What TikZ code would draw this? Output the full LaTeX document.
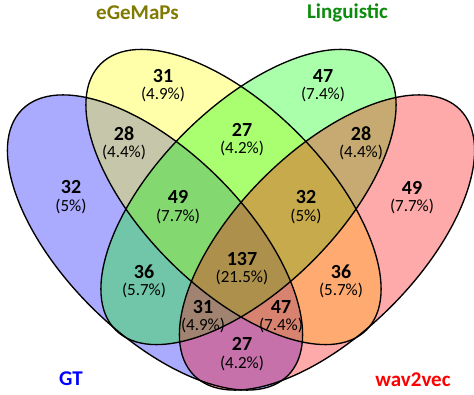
\documentclass[tikz,border=0pt]{standalone}
\usepackage{fontspec}
\setmainfont{Carlito}
\definecolor{gtfill}{RGB}{0,0,255}
\definecolor{egfill}{RGB}{255,255,0}
\definecolor{lifill}{RGB}{0,255,0}
\definecolor{wvfill}{RGB}{255,0,0}
\definecolor{egtext}{RGB}{128,122,0}
\definecolor{litext}{RGB}{12,140,12}
\begin{document}
\begin{tikzpicture}[x=1pt,y=1pt,
  vfill/.style={fill opacity=0.3333},
  vline/.style={draw=black, line width=1.35pt},
  numlab/.style={inner sep=0pt, font=\fontsize{20}{20}\selectfont\bfseries},
  pctlab/.style={inner sep=0pt, font=\fontsize{17}{17}\selectfont},
  setlab/.style={inner sep=0pt, font=\fontsize{21}{21}\selectfont\bfseries}]
\useasboundingbox (0,0) rectangle (474,394);
\clip (0,0) rectangle (474,394);
\coordinate (cgt) at (155,151.5);
\coordinate (ceg) at (233.5,197);
\coordinate (cli) at (248.5,197);
\coordinate (cwv) at (327,151.5);
% fills
\fill[vfill, gtfill, rotate around={-45:(cgt)}] (cgt) ellipse [x radius=188pt, y radius=90.6pt];
\fill[vfill, egfill, rotate around={-45:(ceg)}] (ceg) ellipse [x radius=188pt, y radius=90.6pt];
\fill[vfill, lifill, rotate around={45:(cli)}] (cli) ellipse [x radius=188pt, y radius=90.6pt];
\fill[vfill, wvfill, rotate around={45:(cwv)}] (cwv) ellipse [x radius=188pt, y radius=90.6pt];
% outlines
\draw[vline, rotate around={-45:(cgt)}] (cgt) ellipse [x radius=188pt, y radius=90.6pt];
\draw[vline, rotate around={-45:(ceg)}] (ceg) ellipse [x radius=188pt, y radius=90.6pt];
\draw[vline, rotate around={45:(cli)}] (cli) ellipse [x radius=188pt, y radius=90.6pt];
\draw[vline, rotate around={45:(cwv)}] (cwv) ellipse [x radius=188pt, y radius=90.6pt];
% set labels
\node[setlab, text=egtext] (leg) at (137.5,381.5) {eGeMaPs};
\node[setlab, text=litext] (lli) at (347.5,381.5) {Linguistic};
\node[setlab, text=blue] (lgt) at (71,15) {GT};
\node[setlab, text=red] (lwv) at (413,14.5) {wav2vec};
% region counts
\node[numlab] (n1) at (71,207) {32};   \node[pctlab] (p1) at (71,188) {(5\%)};
\node[numlab] (n2) at (163,318) {31};  \node[pctlab] (p2) at (163,300) {(4.9\%)};
\node[numlab] (n3) at (323,318) {47};  \node[pctlab] (p3) at (323,300) {(7.4\%)};
\node[numlab] (n4) at (124,260) {28};  \node[pctlab] (p4) at (124,242) {(4.4\%)};
\node[numlab] (n5) at (242,264) {27};  \node[pctlab] (p5) at (242,246) {(4.2\%)};
\node[numlab] (n6) at (361,260) {28};  \node[pctlab] (p6) at (361,242) {(4.4\%)};
\node[numlab] (n7) at (412,206) {49};  \node[pctlab] (p7) at (412,188) {(7.7\%)};
\node[numlab] (n8) at (178,197) {49};  \node[pctlab] (p8) at (178,178) {(7.7\%)};
\node[numlab] (n9) at (306,197) {32};  \node[pctlab] (p9) at (306,178) {(5\%)};
\node[numlab] (n10) at (144,122) {36}; \node[pctlab] (p10) at (144,104) {(5.7\%)};
\node[numlab] (n11) at (341,122) {36}; \node[pctlab] (p11) at (341,104) {(5.7\%)};
\node[numlab] (n12) at (242,135) {137};\node[pctlab] (p12) at (242,117) {(21.5\%)};
\node[numlab] (n13) at (203,87) {31};  \node[pctlab] (p13) at (203,69) {(4.9\%)};
\node[numlab] (n14) at (281,87) {47};  \node[pctlab] (p14) at (281,69) {(7.4\%)};
\node[numlab] (n15) at (242,50) {27};  \node[pctlab] (p15) at (242,31) {(4.2\%)};
\end{tikzpicture}
\end{document}
